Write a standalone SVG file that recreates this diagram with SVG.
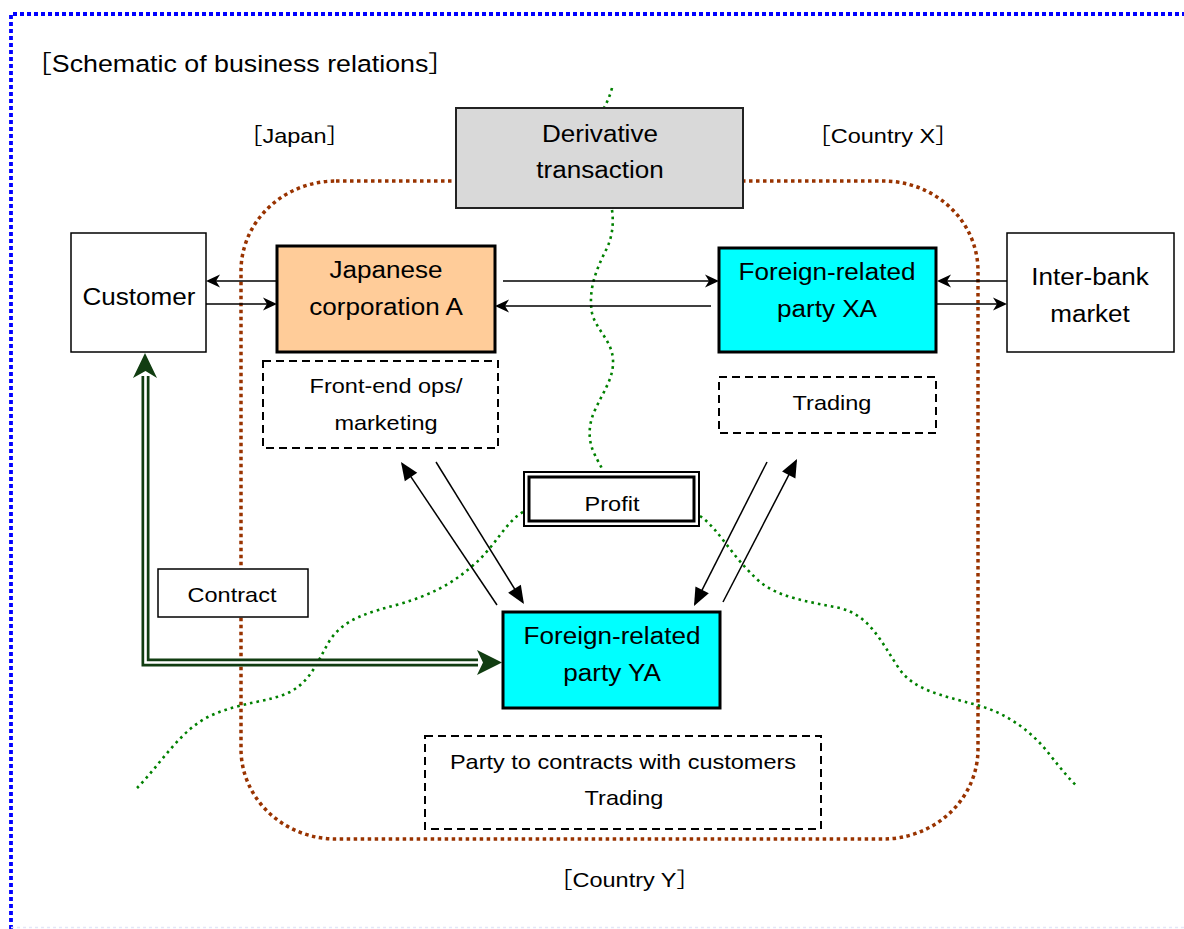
<svg xmlns="http://www.w3.org/2000/svg" width="1184" height="929" viewBox="0 0 1184 929">
<defs>
<style>
text{font-family:"Liberation Sans","Noto Sans CJK JP",Arial,sans-serif;fill:#000;text-anchor:middle}
.b{font-size:23.3px}
.s{font-size:21px}
.plain{fill:#fff;stroke:#000;stroke-width:1.5}
.thick{stroke:#000;stroke-width:3}
.cyan{fill:#00FFFF}
.dash{fill:#fff;stroke:#000;stroke-width:2;stroke-dasharray:8 5}
.conn{stroke:#000;stroke-width:1.5;fill:none}
.green{fill:none;stroke:#008000;stroke-width:2.6;stroke-dasharray:2.6 4}
</style>
<marker id="st" markerUnits="userSpaceOnUse" orient="auto" overflow="visible" markerWidth="1" markerHeight="1">
<path d="M2,0 L-12,-6.5 L-8,0 L-12,6.5 Z" fill="#000"/>
</marker>
<marker id="tri" markerUnits="userSpaceOnUse" orient="auto" overflow="visible" markerWidth="1" markerHeight="1">
<path d="M2,0 L-16,-7.5 L-16,7.5 Z" fill="#000"/>
</marker>
</defs>
<rect width="1184" height="929" fill="#fff"/>

<g id="frame">
<path d="M11,929 V14 H1184" fill="none" stroke="#0000ff" stroke-width="3.8" stroke-dasharray="4 3"/>
<path d="M11,927.5 H1184" fill="none" stroke="#e4e6f7" stroke-width="1.5" stroke-dasharray="3 3"/>
</g>

<g id="title">
<text class="b" style="text-anchor:start" transform="translate(25 72) scale(1.15 1)">［Schematic of business relations］</text>
</g>

<g id="regions">
<rect x="241" y="181" width="737" height="658" rx="95" ry="90" fill="none" stroke="#993300" stroke-width="3.5" stroke-dasharray="3.5 3.5"/>
<path class="green" d="M612,88 C610,96 607,102 604,108"/>
<path class="green" d="M612,210 C614,225 612,238 606,250 C596,270 588,290 592,313 C596,330 612,340 613,360 C614,378 603,392 595,410 C588,425 588,440 594,453 C598,462 602,467 603,472"/>
<path class="green" d="M523,512 C505,522 495,548 470,568 C450,585 430,595 400,604 C370,612 345,618 330,640 C318,660 312,680 290,692 C270,702 240,702 210,716 C180,730 160,765 137,788"/>
<path class="green" d="M700,516 C720,530 730,555 760,582 C780,598 810,602 840,608 C870,616 880,640 900,670 C915,690 940,695 977,705 C1010,714 1035,735 1050,755 C1062,770 1070,780 1078,787"/>
<text class="s" transform="translate(294.5 143) scale(1.12 1)">［Japan］</text>
<text class="s" transform="translate(883 143) scale(1.12 1)">［Country X］</text>
<text class="s" transform="translate(624.5 887) scale(1.12 1)">［Country Y］</text>
</g>

<g id="connectors">
<line class="conn" x1="277" y1="281" x2="208" y2="281" marker-end="url(#st)"/>
<line class="conn" x1="206" y1="304" x2="275" y2="304" marker-end="url(#st)"/>
<line class="conn" x1="503" y1="281" x2="717" y2="281" marker-end="url(#st)"/>
<line class="conn" x1="711" y1="306" x2="497" y2="306" marker-end="url(#st)"/>
<line class="conn" x1="1007" y1="281" x2="939" y2="281" marker-end="url(#st)"/>
<line class="conn" x1="937" y1="304" x2="1005" y2="304" marker-end="url(#st)"/>
<line class="conn" x1="497" y1="605" x2="402.1" y2="463.7" marker-end="url(#tri)"/>
<line class="conn" x1="436" y1="462" x2="522.9" y2="602.3" marker-end="url(#tri)"/>
<line class="conn" x1="767" y1="462" x2="694.9" y2="604.2" marker-end="url(#tri)"/>
<line class="conn" x1="723" y1="602" x2="796.1" y2="460.8" marker-end="url(#tri)"/>
<g id="contract-arrow">
<path d="M145.5,376 V662.5 H478" fill="none" stroke="#113d11" stroke-width="8"/>
<path d="M145.5,376 V662.5 H478" fill="none" stroke="#fff" stroke-width="2.6"/>
<path d="M145,353 L157,378 L145.5,371 L133,378 Z" fill="#113d11"/>
<path d="M502,662.5 L477,650 L483,662.5 L477,675 Z" fill="#113d11"/>
</g>
</g>

<g id="customer">
<rect class="plain" x="71" y="233" width="135" height="119"/>
<text class="b" transform="translate(139 305) scale(1.12 1)">Customer</text>
</g>
<g id="japanese-corp-a">
<rect class="thick" x="277" y="246" width="218" height="106" fill="#FFCC99"/>
<text class="b" transform="translate(386 278) scale(1.12 1)">Japanese</text>
<text class="b" transform="translate(386 315) scale(1.12 1)">corporation A</text>
</g>
<g id="party-xa">
<rect class="thick cyan" x="719" y="248" width="217" height="104"/>
<text class="b" transform="translate(827 280) scale(1.12 1)">Foreign-related</text>
<text class="b" transform="translate(827 317) scale(1.12 1)">party XA</text>
</g>
<g id="inter-bank">
<rect class="plain" x="1007" y="233" width="167" height="119"/>
<text class="b" transform="translate(1090 285) scale(1.12 1)">Inter-bank</text>
<text class="b" transform="translate(1090 322) scale(1.12 1)">market</text>
</g>
<g id="derivative">
<rect x="456" y="108" width="287" height="100" fill="#D9D9D9" stroke="#222" stroke-width="2"/>
<text class="b" transform="translate(600 142) scale(1.12 1)">Derivative</text>
<text class="b" transform="translate(600 178) scale(1.12 1)">transaction</text>
</g>
<g id="front-end">
<rect class="dash" x="263" y="361" width="235" height="87"/>
<text class="s" transform="translate(386 393) scale(1.12 1)">Front-end ops/</text>
<text class="s" transform="translate(386 430) scale(1.12 1)">marketing</text>
</g>
<g id="trading-x">
<rect class="dash" x="719" y="377" width="217" height="56"/>
<text class="s" transform="translate(832 410) scale(1.12 1)">Trading</text>
</g>
<g id="profit">
<rect x="524" y="472" width="175" height="54" fill="#fff" stroke="#000" stroke-width="2"/>
<rect x="529" y="477" width="165" height="44" fill="#fff" stroke="#000" stroke-width="3"/>
<text class="s" transform="translate(612 511) scale(1.12 1)">Profit</text>
</g>
<g id="contract">
<rect class="plain" x="158" y="569" width="150" height="48"/>
<text class="s" transform="translate(232 602) scale(1.12 1)">Contract</text>
</g>
<g id="party-ya">
<rect class="thick cyan" x="503" y="612" width="217" height="96"/>
<text class="b" transform="translate(612 644) scale(1.12 1)">Foreign-related</text>
<text class="b" transform="translate(612 681) scale(1.12 1)">party YA</text>
</g>
<g id="party-contracts">
<rect class="dash" x="425" y="736" width="396" height="93"/>
<text class="s" transform="translate(623 769) scale(1.12 1)">Party to contracts with customers</text>
<text class="s" transform="translate(624 805) scale(1.12 1)">Trading</text>
</g>
</svg>
